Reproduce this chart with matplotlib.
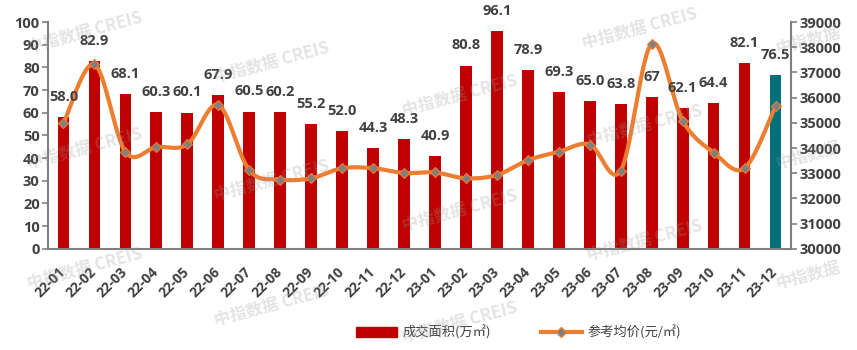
import numpy as np
import matplotlib
matplotlib.use("Agg")
import matplotlib.pyplot as plt
from matplotlib.lines import Line2D
from matplotlib.patches import Patch

# Monthly data
months = ["22-01", "22-02", "22-03", "22-04", "22-05", "22-06", "22-07", "22-08",
          "22-09", "22-10", "22-11", "22-12", "23-01", "23-02", "23-03", "23-04",
          "23-05", "23-06", "23-07", "23-08", "23-09", "23-10", "23-11", "23-12"]
area = [58.0, 82.9, 68.1, 60.3, 60.1, 67.9, 60.5, 60.2, 55.2, 52.0, 44.3, 48.3,
        40.9, 80.8, 96.1, 78.9, 69.3, 65.0, 63.8, 67, 62.1, 64.4, 82.1, 76.5]
area_labels = ["58.0", "82.9", "68.1", "60.3", "60.1", "67.9", "60.5", "60.2", "55.2",
               "52.0", "44.3", "48.3", "40.9", "80.8", "96.1", "78.9", "69.3", "65.0",
               "63.8", "67", "62.1", "64.4", "82.1", "76.5"]
price = [34980, 37320, 33850, 34040, 34150, 35710, 33120, 32750, 32800, 33200, 33200,
         33010, 33030, 32800, 32930, 33520, 33850, 34140, 33100, 38140, 35090, 33820,
         33200, 35670]
left_ticks = list(range(0, 101, 10))
right_ticks = list(range(30000, 39001, 1000))

RED = "#C00000"
TEAL = "#00707A"
ORANGE = "#ED7D31"
GREY = "#7F7F7F"
TXT = "#404040"
NUM_FONT = "Open Sans"
CJK = ["Noto Sans CJK SC", "DejaVu Sans"]


def smooth(xs, ys, n=30):
    """Cubic Bezier curve through the points (Catmull-Rom control points)."""
    xs = np.asarray(xs, float)
    ys = np.asarray(ys, float)
    px = np.concatenate([[xs[0]], xs, [xs[-1]]])
    py = np.concatenate([[ys[0]], ys, [ys[-1]]])
    outx, outy = [], []
    t = np.linspace(0, 1, n)
    for i in range(1, len(px) - 2):
        p0 = np.array([px[i], py[i]])
        p3 = np.array([px[i + 1], py[i + 1]])
        c1 = p0 + (np.array([px[i + 1], py[i + 1]]) - np.array([px[i - 1], py[i - 1]])) / 6
        c2 = p3 - (np.array([px[i + 2], py[i + 2]]) - np.array([px[i], py[i]])) / 6
        b = ((1 - t) ** 3)[:, None] * p0 + (3 * (1 - t) ** 2 * t)[:, None] * c1 \
            + (3 * (1 - t) * t ** 2)[:, None] * c2 + (t ** 3)[:, None] * p3
        outx.extend(b[:, 0])
        outy.extend(b[:, 1])
    return np.array(outx), np.array(outy)


fig = plt.figure(figsize=(8.57, 3.5), dpi=100)
ax = fig.add_axes([0.056, 0.289, 0.867, 0.648])
ax2 = ax.twinx()

x = np.arange(len(months))
colors = [RED] * (len(months) - 1) + [TEAL]
ax.bar(x, area, width=0.38, color=colors, zorder=2)

sx, sy = smooth(x, price)
ax2.plot(sx, sy, color=ORANGE, lw=3, solid_capstyle="round", zorder=3)
ax2.plot(x, price, linestyle="none", marker="D", ms=5.5, mfc=GREY,
         mec=ORANGE, mew=0.8, zorder=4)

# value labels above the bars, drawn on the upper axes so they sit over the line
for xi, v, lab in zip(x, area, area_labels):
    ax2.annotate(lab, (xi, v), xycoords=ax.transData, xytext=(0, 14.5),
                 textcoords="offset points", ha="center", va="center",
                 fontsize=10.5, fontweight="bold", color=TXT, family=NUM_FONT,
                 zorder=5)

ax.set_xlim(-0.5, len(months) - 0.5)
ax.set_ylim(0, 100)
ax2.set_ylim(30000, 39000)
ax.set_yticks(left_ticks)
ax2.set_yticks(right_ticks)
ax.set_xticks(x)
ax.set_xticklabels(months, rotation=45, ha="right", va="center",
                   rotation_mode="anchor")

for a in (ax, ax2):
    for s in a.spines.values():
        s.set_visible(False)
ax.spines["left"].set_visible(True)
ax.spines["bottom"].set_visible(True)
ax2.spines["right"].set_visible(True)
for s in (ax.spines["left"], ax.spines["bottom"], ax2.spines["right"]):
    s.set_color(GREY)
    s.set_linewidth(1.5)

ax.tick_params(axis="y", length=4, width=1.2, color=GREY, pad=2,
               labelsize=10.5, labelcolor=TXT)
ax2.tick_params(axis="y", length=4, width=1.2, color=GREY, pad=2,
                labelsize=10.5, labelcolor=TXT)
ax.tick_params(axis="x", length=0, pad=15, labelsize=10, labelcolor=TXT)
for lab in ax.get_yticklabels() + ax2.get_yticklabels() + ax.get_xticklabels():
    lab.set_fontfamily(NUM_FONT)
    lab.set_fontweight("bold")

ax2.set_zorder(ax.get_zorder() + 1)
ax2.patch.set_visible(False)
fig.patch.set_facecolor("white")

handles = [Patch(facecolor=RED, edgecolor=RED),
           Line2D([0], [0], color=ORANGE, lw=3, marker="D", ms=5, mfc=GREY, mec=ORANGE)]
fig.legend(handles, ["成交面积(万㎡)", "参考均价(元/㎡)"], loc="center",
           bbox_to_anchor=(0.605, 0.05), ncol=2, frameon=False,
           prop={"family": CJK, "size": 9.5}, labelcolor=TXT,
           handlelength=3.1, handleheight=0.7, columnspacing=3.8, handletextpad=0.4)

# watermark
wm_full = [(85, 32), (272, 62), (460, 95), (640, 28),
           (85, 148), (272, 180), (460, 210), (645, 125),
           (85, 268), (272, 305), (460, 322), (645, 240)]
wm_short = [(808, 40), (808, 155), (808, 275)]
for px_, py_ in wm_full:
    fig.text(px_ / 857, 1 - py_ / 350, "中指数据 CREIS", rotation=15,
             ha="center", va="center", fontsize=12, fontweight="bold",
             color="#9a9a9a", alpha=0.27, family=CJK, zorder=10)
for px_, py_ in wm_short:
    fig.text(px_ / 857, 1 - py_ / 350, "中指数据", rotation=15,
             ha="center", va="center", fontsize=12, fontweight="bold",
             color="#9a9a9a", alpha=0.27, family=CJK, zorder=10)

fig.savefig("out.png", dpi=100, facecolor="white")
